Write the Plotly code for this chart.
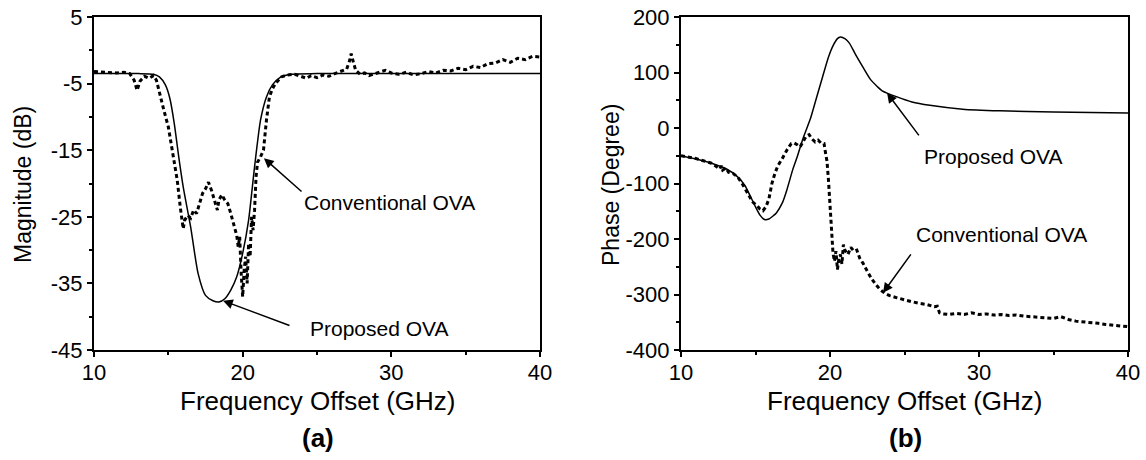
import plotly.graph_objects as go

# ---- data (a): magnitude ----
mag_prop_x = [10, 13, 14, 14.4, 14.8, 15.1, 15.4, 15.7, 16.0, 16.5, 17.0, 17.5, 18.0, 18.4, 18.8,
              19.2, 19.6, 20.0, 20.4, 20.8, 21.2, 21.6, 22.0, 22.5, 23.2, 25, 40]
mag_prop_y = [-3.5, -3.5, -3.6, -4.0, -5.2, -7.2, -11, -16, -20.5, -26.5, -33.5, -36.8, -37.6, -37.8, -37.3,
              -36.0, -34.0, -30.5, -25.5, -17.5, -10.5, -7.0, -5.2, -4.1, -3.6, -3.5, -3.5]

mag_conv_x = [10.0, 10.5, 11.0, 11.5, 12.0, 12.4, 12.7, 12.9, 13.1, 13.4, 13.7, 14.0, 14.2, 14.4, 14.7,
              15.0, 15.2, 15.4, 15.6, 15.8, 16.0, 16.1, 16.3, 16.5, 16.7, 16.9, 17.1, 17.3, 17.5, 17.7,
              17.9, 18.0, 18.2, 18.3, 18.4, 18.6, 18.8, 19.0, 19.2, 19.4, 19.6, 19.7, 19.8, 19.9, 20.0,
              20.1, 20.2, 20.3, 20.4, 20.5, 20.6, 20.7, 20.8, 20.9, 21.0, 21.2, 21.4, 21.6, 21.8, 22.0,
              22.2, 22.6, 23.0, 23.5, 24.0, 24.3, 24.6, 25.0, 25.4, 25.8, 26.2, 26.6, 27.0, 27.2, 27.3,
              27.45, 27.6, 27.9, 28.2, 28.5, 28.8, 29.2, 29.6, 30.0, 30.5, 31.0, 31.5, 32.0, 32.5, 33.0,
              33.5, 34.0, 34.5, 35.0, 35.5, 36.0, 36.5, 37.0, 37.5, 38.0, 38.5, 39.0, 39.5, 40.0]
mag_conv_y = [-3.2, -3.3, -3.3, -3.4, -3.3, -3.5, -4.5, -6.0, -4.6, -3.9, -4.2, -3.8, -4.5, -6.5, -9.0,
              -11.5, -14.0, -16.5, -19.5, -23.5, -26.8, -25.5, -24.8, -25.2, -24.0, -24.5, -23.0, -21.5, -20.8, -19.8,
              -21.0, -21.8, -23.0, -24.0, -22.5, -21.7, -22.5, -23.0, -24.5, -26.0, -27.8, -29.5, -28.0, -33.5, -37.0,
              -33.0, -31.0, -35.0, -29.0, -31.0, -25.0, -27.0, -24.0, -19.0, -16.8, -16.0, -15.0, -10.5, -7.0, -5.8,
              -5.0, -4.0, -3.7, -3.6, -4.0, -4.2, -3.8, -4.1, -3.7, -3.9, -3.5, -3.2, -2.8, -1.5, -0.5,
              -1.8, -3.0, -3.6, -3.4, -3.8, -3.6, -3.3, -3.0, -3.4, -3.6, -3.3, -3.7, -3.5, -3.2, -3.4,
              -3.0, -3.1, -2.7, -2.9, -2.4, -2.6, -2.0, -1.9, -1.4, -1.8, -1.2, -1.4, -0.9, -1.0]

# ---- data (b): phase ----
ph_prop_x = [10, 11, 12, 13, 13.8, 14.3, 14.6, 15.0, 15.3, 15.6, 15.9, 16.2, 16.4, 16.8, 17.1, 17.5, 17.8,
             18.2, 18.7, 19.1, 19.5, 19.9, 20.2, 20.5, 20.7, 21.0, 21.3, 21.7, 22.2, 22.7, 23.2, 23.5,
             24.5, 25.5, 26.7, 28.9, 31.4, 35, 40]
ph_prop_y = [-50, -56, -63, -73, -88, -104, -120, -142, -157, -165, -164, -158, -153, -135, -112, -75, -52,
             -18, 18, 55, 92, 128, 148, 161, 164, 161, 153, 133, 110, 88, 74, 67,
             56, 47, 41, 34, 31, 29, 27]

ph_conv_x = [10, 10.5, 11, 11.5, 12, 12.4, 12.6, 12.7, 12.8, 13.0, 13.2, 13.5, 13.8, 14.1, 14.4, 14.8,
             15.1, 15.3, 15.5, 15.7, 15.9, 16.1, 16.3, 16.5, 16.8, 17.1, 17.4, 17.6, 17.8, 18.0, 18.2,
             18.4, 18.6, 18.8, 19.0, 19.2, 19.4, 19.6, 19.7, 19.8, 19.9, 20.0, 20.1, 20.2, 20.3, 20.4,
             20.5, 20.6, 20.7, 20.8, 20.9, 21.0, 21.2, 21.4, 21.6, 21.8, 22.0, 22.2, 22.5, 22.8, 23.1,
             23.4, 23.7, 24.0, 24.5, 25.0, 25.5, 26.0, 26.5, 27.0, 27.2, 27.35, 27.6, 28, 28.5, 29,
             29.5, 30, 30.5, 31, 31.5, 32, 32.5, 33, 33.5, 34, 34.5, 35, 35.5, 36, 36.5, 37, 37.5,
             38, 38.5, 39, 39.5, 40]
ph_conv_y = [-50, -52, -55, -59, -63, -70, -74, -68, -76, -72, -80, -82, -88, -100, -115, -133,
             -140, -146, -149, -142, -128, -100, -82, -68, -55, -40, -28, -27, -30, -34, -24,
             -15, -12, -20, -25, -22, -27, -28, -45, -60, -95, -140, -200, -225, -240, -222,
             -255, -235, -228, -245, -210, -220, -228, -215, -222, -220, -235, -243, -258, -272, -283,
             -292, -298, -302, -306, -310, -313, -316, -318, -322, -321, -333, -335, -336, -334, -336,
             -333, -336, -335, -337, -336, -338, -337, -339, -340, -341, -342, -343, -340, -345, -348, -349, -351,
             -352, -354, -355, -356, -358]

# ---- tick labels ----
x_ticks = [10, 20, 30, 40]
x_minor = [15, 25, 35]
mag_ticks = [5, -5, -15, -25, -35, -45]
mag_minor = [0, -10, -20, -30, -40]
ph_ticks = [200, 100, 0, -100, -200, -300, -400]
ph_minor = [150, 50, -50, -150, -250, -350]

W, H = 1146, 460
FONT = "Arial, Liberation Sans, Helvetica, sans-serif"


def px(xp):
    return xp / W


def py(yp):
    return 1 - yp / H


fig = go.Figure()
solid = dict(color="black", width=1.5, shape="spline", smoothing=0.6)
dotted = dict(color="black", width=3, dash="4px,3px")

fig.add_trace(go.Scatter(x=mag_prop_x, y=mag_prop_y, mode="lines", line=solid, xaxis="x", yaxis="y"))
fig.add_trace(go.Scatter(x=mag_conv_x, y=mag_conv_y, mode="lines", line=dotted, xaxis="x", yaxis="y"))
fig.add_trace(go.Scatter(x=ph_prop_x, y=ph_prop_y, mode="lines", line=solid, xaxis="x2", yaxis="y2"))
fig.add_trace(go.Scatter(x=ph_conv_x, y=ph_conv_y, mode="lines", line=dotted, xaxis="x2", yaxis="y2"))

ydom = [py(350), py(17)]
axis_common = dict(showgrid=False, zeroline=False, showline=True, linecolor="black", linewidth=2,
                   mirror=True, ticks="outside", ticklen=5, tickwidth=2, tickcolor="black",
                   automargin=False, tickfont=dict(family=FONT, size=22, color="black"))


def lab(v):
    return [str(t) for t in v]


fig.update_layout(
    template="none",
    width=W, height=H, margin=dict(l=0, r=0, t=0, b=0, pad=0, autoexpand=False),
    paper_bgcolor="white", plot_bgcolor="white", showlegend=False,
    xaxis=dict(domain=[px(94), px(540)], range=[10, 40], tickvals=x_ticks, ticktext=lab(x_ticks),
               minor=dict(ticks="outside", ticklen=3, tickwidth=2, tickvals=x_minor, tickcolor="black"),
               ticklabelstandoff=-3, anchor="y", **axis_common),
    yaxis=dict(domain=ydom, range=[-45, 5], tickvals=mag_ticks, ticktext=lab(mag_ticks),
               minor=dict(ticks="outside", ticklen=3, tickwidth=2, tickvals=mag_minor, tickcolor="black"),
               anchor="x", **axis_common),
    xaxis2=dict(domain=[px(681), px(1128)], range=[10, 40], tickvals=x_ticks, ticktext=lab(x_ticks),
                minor=dict(ticks="outside", ticklen=3, tickwidth=2, tickvals=x_minor, tickcolor="black"),
                ticklabelstandoff=-3, anchor="y2", **axis_common),
    yaxis2=dict(domain=ydom, range=[-400, 200], tickvals=ph_ticks, ticktext=lab(ph_ticks),
                minor=dict(ticks="outside", ticklen=3, tickwidth=2, tickvals=ph_minor, tickcolor="black"),
                anchor="x2", **axis_common),
)

tf = dict(family=FONT, size=21, color="black")
big = dict(family=FONT, size=26, color="black")
C = dict(xanchor="center", yanchor="middle", showarrow=False)
ann = []
# axis titles
ann.append(dict(x=px(318), y=py(401), xref="paper", yref="paper", text="Frequency Offset (GHz)", font=big, **C))
ann.append(dict(x=px(905), y=py(401), xref="paper", yref="paper", text="Frequency Offset (GHz)", font=big, **C))
ann.append(dict(x=px(318), y=py(438), xref="paper", yref="paper", text="<b>(a)</b>", font=big, **C))
ann.append(dict(x=px(905), y=py(438), xref="paper", yref="paper", text="<b>(b)</b>", font=big, **C))
ann.append(dict(x=px(23), y=py(185), xref="paper", yref="paper", text="Magnitude (dB)", textangle=-90,
                font=dict(family=FONT, size=23, color="black"), **C))
ann.append(dict(x=px(611), y=py(185), xref="paper", yref="paper", text="Phase (Degree)", textangle=-90,
                font=dict(family=FONT, size=23, color="black"), **C))

# labels and arrows (a)
ann.append(dict(x=29.9, y=-22.9, xref="x", yref="y", text="Conventional OVA", font=tf, **C))
ann.append(dict(x=21.43, y=-16.2, ax=24.06, ay=-21.4, xref="x", yref="y", axref="x", ayref="y", text="",
                showarrow=True, arrowhead=2, arrowsize=1.3, arrowwidth=1.5, arrowcolor="black"))
ann.append(dict(x=29.2, y=-41.8, xref="x", yref="y", text="Proposed OVA", font=tf, **C))
ann.append(dict(x=18.68, y=-37.6, ax=23.25, ay=-41.4, xref="x", yref="y", axref="x", ayref="y", text="",
                showarrow=True, arrowhead=2, arrowsize=1.3, arrowwidth=1.5, arrowcolor="black"))
# labels and arrows (b)
ann.append(dict(x=30.94, y=-52, xref="x2", yref="y2", text="Proposed OVA", font=tf, **C))
ann.append(dict(x=23.83, y=63, ax=26.04, ay=-16, xref="x2", yref="y2", axref="x2", ayref="y2", text="",
                showarrow=True, arrowhead=2, arrowsize=1.3, arrowwidth=1.5, arrowcolor="black"))
ann.append(dict(x=31.5, y=-191, xref="x2", yref="y2", text="Conventional OVA", font=tf, **C))
ann.append(dict(x=23.56, y=-297, ax=25.5, ay=-225, xref="x2", yref="y2", axref="x2", ayref="y2", text="",
                showarrow=True, arrowhead=2, arrowsize=1.3, arrowwidth=1.5, arrowcolor="black"))
fig.update_layout(annotations=ann)

fig.write_html("out.html", config={"displayModeBar": False},
               post_script="document.body.style.margin='0';document.body.style.overflow='hidden';")
